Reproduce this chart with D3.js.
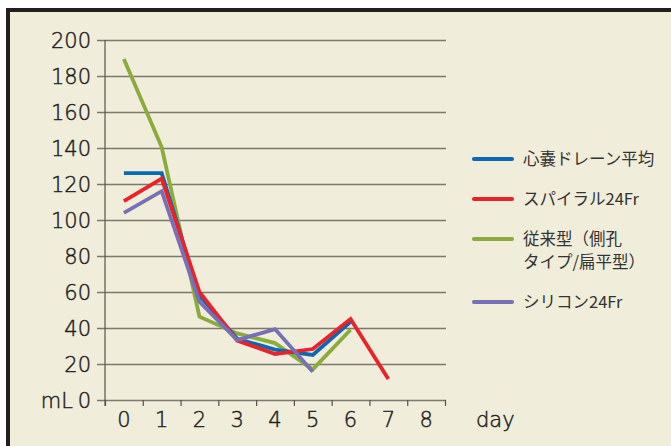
<!DOCTYPE html>
<html>
<head>
<meta charset="utf-8">
<script src="https://cdn.jsdelivr.net/npm/d3@7"></script>
<style>
  body { margin: 0; background: #fff; }
  svg { display: block; }
  .num { font-family: "DejaVu Sans"; font-weight: 200; font-size: 21px; fill: #1e1e1e; stroke: #1e1e1e; stroke-width: 0.45px; }
</style>
</head>
<body>
<div id="chart"></div>
<script>
// drainage volume per day
var days = [0, 1, 2, 3, 4, 5, 6, 7, 8];
var yTicks = [0, 20, 40, 60, 80, 100, 120, 140, 160, 180, 200];

var seriesNames = ["心嚢ドレーン平均", "スパイラル24Fr", "従来型（側孔タイプ/扁平型）", "シリコン24Fr"];
var blueVals = [126, 126, 58, 34, 28, 25, 43.5];
var redVals = [110.5, 123, 60, 33, 25.5, 28.3, 45, 11.7];
var greenVals = [189.4, 140.5, 46.3, 37, 31.6, 17, 39];
var purpleVals = [104, 116, 54.6, 33.3, 39.4, 15.7];

var colours = ["#0b69b4", "#ea2229", "#8bab3d", "#7671b6"];
var legendLines = [["心嚢ドレーン平均"], ["スパイラル24Fr"], ["従来型（側孔", "タイプ/扁平型）"], ["シリコン24Fr"]];

var width = 671, height = 446;
var jpFont = "'Noto Sans CJK JP', sans-serif";

var svg = d3.select("#chart").append("svg")
  .attr("width", width)
  .attr("height", height);

// framed panel
svg.append("rect")
  .attr("x", 8).attr("y", 10)
  .attr("width", 700).attr("height", 500)
  .attr("fill", "#f0edda")
  .attr("stroke", "#231f20")
  .attr("stroke-width", 4);

//scales
var x = d3.scaleBand().domain(days).range([105, 445]);
var xEdge = d3.scaleLinear().domain([0, days.length]).range([105, 445]);
var y = d3.scaleLinear().domain([0, 200]).range([400, 40]);

//y axis + gridlines
var gy = svg.append("g")
  .attr("transform", "translate(105,0)")
  .call(d3.axisLeft(y).tickValues(yTicks).tickSizeInner(-341).tickSizeOuter(0).tickPadding(14));
gy.select(".domain").remove();
gy.selectAll(".tick line")
  .attr("x1", -8)
  .attr("stroke", "#7a786f")
  .attr("stroke-width", 1.4);
gy.selectAll(".tick text")
  .attr("class", "num")
  .attr("fill", null)
  .attr("dy", "0.36em");

// vertical axis line
svg.append("line")
  .attr("x1", 105).attr("x2", 105)
  .attr("y1", y(200)).attr("y2", 406)
  .attr("stroke", "#55534d")
  .attr("stroke-width", 1.2);

//x axis ticks on the band edges
var gx = svg.append("g")
  .attr("transform", "translate(0,400)")
  .call(d3.axisBottom(xEdge).ticks(days.length + 1).tickSize(6).tickFormat(""));
gx.select(".domain").remove();
gx.selectAll(".tick line").attr("stroke", "#55534d").attr("stroke-width", 1.2);

//x axis labels
var gxl = svg.append("g")
  .attr("transform", "translate(0,400)")
  .call(d3.axisBottom(x).tickSize(0).tickPadding(0));
gxl.select(".domain").remove();
gxl.selectAll(".tick text")
  .attr("class", "num")
  .attr("fill", null)
  .attr("y", 27)
  .attr("dy", 0);

svg.append("text")
  .attr("class", "num")
  .attr("x", 73).attr("y", 408)
  .attr("text-anchor", "end")
  .text("mL");

svg.append("text")
  .attr("class", "num")
  .attr("x", 476).attr("y", 427)
  .text("day");

//lines
var line = d3.line()
  .x(function(d, i) { return x(days[i]) + x.bandwidth() / 2; })
  .y(function(d) { return y(d); });

var allVals = [blueVals, redVals, greenVals, purpleVals];
var drawOrder = [2, 0, 1, 3];
drawOrder.forEach(function(k) {
  svg.append("path")
    .datum(allVals[k])
    .attr("d", line)
    .attr("fill", "none")
    .attr("stroke", colours[k])
    .attr("stroke-width", 3.8)
    .attr("stroke-linejoin", "miter");
});

//legend
var legendY = [159, 199, 239, 302];
var lg = svg.append("g").attr("class", "legend");
legendLines.forEach(function(lines, k) {
  lg.append("line")
    .attr("x1", 474).attr("x2", 512)
    .attr("y1", legendY[k]).attr("y2", legendY[k])
    .attr("stroke", colours[k])
    .attr("stroke-width", 4.2)
    .attr("stroke-linecap", "round");
  lines.forEach(function(s, j) {
    lg.append("text")
      .attr("x", 523)
      .attr("y", legendY[k] + 6 + j * 23)
      .style("font-family", jpFont)
      .style("font-size", "16.5px")
      .style("fill", "#333")
      .text(s);
  });
});
</script>
</body>
</html>
